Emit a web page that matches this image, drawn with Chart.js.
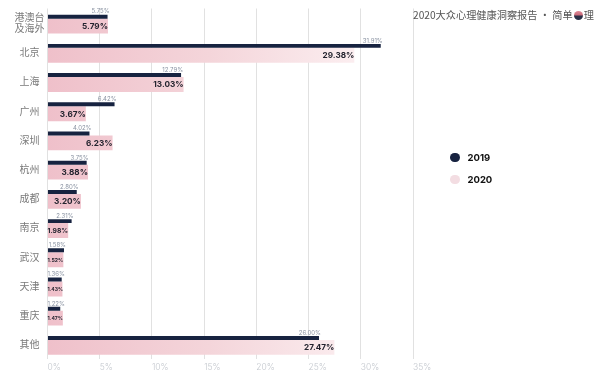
<!DOCTYPE html>
<html>
<head>
<meta charset="utf-8">
<script src="https://cdn.jsdelivr.net/npm/chart.js@4/dist/chart.umd.min.js"></script>
<style>
  html, body { margin: 0; padding: 0; background: #fff; }
  #wrap { position: relative; width: 604px; height: 386px; overflow: hidden; background: #fff; }
  #c { position: absolute; left: 0; top: 0; }
  #title { position: absolute; left: 413px; top: 7px; font-family: "Noto Sans CJK SC", sans-serif; font-size: 10.2px; color: #555; white-space: nowrap; line-height: 15px; }
  #title .logo { display: inline-block; width: 9px; height: 9px; border-radius: 50%; background: linear-gradient(#e08a98 0%, #c96a7a 45%, #2b3148 55%, #2b3148 100%); vertical-align: -1px; margin: 0 1px; }
  .lg { position: absolute; left: 450px; font-family: Inter, sans-serif; font-weight: 700; font-size: 9.5px; color: #111; line-height: 12px; white-space: nowrap; }
  .lg i { display: inline-block; width: 9.5px; height: 9.5px; border-radius: 50%; margin-right: 8px; vertical-align: -1px; }
</style>
</head>
<body>
<div id="wrap">
  <canvas id="c" width="604" height="386"></canvas>
  <div id="title">2020大众心理健康洞察报告 · 简单<span class="logo"></span>理</div>
  <div class="lg" style="top:152px"><i style="background:#172340"></i>2019</div>
  <div class="lg" style="top:174px"><i style="background:#f3dde2"></i>2020</div>
</div>
<script>
const categories = [['港澳台', '及海外'], '北京', '上海', '广州', '深圳', '杭州', '成都', '南京', '武汉', '天津', '重庆', '其他'];
const series2019 = [5.75, 31.91, 12.79, 6.42, 4.02, 3.75, 2.80, 2.31, 1.58, 1.36, 1.22, 26.00];
const series2020 = [5.79, 29.38, 13.03, 3.67, 6.23, 3.88, 3.20, 1.98, 1.52, 1.43, 1.47, 27.47];
const seriesNames = ['2019', '2020'];
const xTicks = [0, 5, 10, 15, 20, 25, 30, 35];

const fmt = v => v.toFixed(2) + '%';

let pinkGrad = null;
function pinkFill(context) {
  const chart = context.chart;
  const area = chart.chartArea;
  if (!area) return '#efc5cd';
  if (!pinkGrad) {
    const x0 = chart.scales.x.getPixelForValue(0);
    const x1 = chart.scales.x.getPixelForValue(31);
    pinkGrad = chart.ctx.createLinearGradient(x0, 0, x1, 0);
    pinkGrad.addColorStop(0, '#efc0ca');
    pinkGrad.addColorStop(0.5, '#f4d5da');
    pinkGrad.addColorStop(1, '#fcf0f2');
  }
  return pinkGrad;
}

const valueLabels = {
  id: 'valueLabels',
  afterDatasetsDraw(chart) {
    const ctx = chart.ctx;
    const x0 = chart.scales.x.getPixelForValue(0);
    ctx.save();
    chart.getDatasetMeta(0).data.forEach((bar, i) => {
      const txt = fmt(series2019[i]);
      ctx.font = '400 6px Inter';
      ctx.fillStyle = '#8a93a2';
      const w = ctx.measureText(txt).width;
      let right = bar.x + 2;
      if (right - w < x0) right = x0 + w;
      ctx.textAlign = 'right';
      ctx.textBaseline = 'bottom';
      ctx.fillText(txt, right, bar.y - bar.height / 2);
    });
    chart.getDatasetMeta(1).data.forEach((bar, i) => {
      const txt = fmt(series2020[i]);
      const maxS = 8.2;
      ctx.font = '700 ' + maxS + 'px Inter';
      const w = ctx.measureText(txt).width;
      const avail = bar.x - x0;
      let s = Math.min(maxS, maxS * avail / w);
      s = Math.max(5, s);
      ctx.font = '700 ' + s.toFixed(2) + 'px Inter';
      const w2 = ctx.measureText(txt).width;
      let right = bar.x;
      if (right - w2 < x0) right = x0 + w2;
      ctx.fillStyle = '#23232e';
      ctx.textAlign = 'right';
      ctx.textBaseline = 'middle';
      ctx.fillText(txt, right, bar.y + 0.5);
    });
    ctx.restore();
  }
};

new Chart(document.getElementById('c'), {
  type: 'bar',
  data: {
    labels: categories,
    datasets: [
      {
        label: seriesNames[0],
        data: series2019,
        backgroundColor: '#172340',
        borderWidth: 0,
        categoryPercentage: 0.8814,
        barPercentage: 0.3077
      },
      {
        label: seriesNames[1],
        data: series2020,
        backgroundColor: pinkFill,
        borderWidth: 0,
        categoryPercentage: 0.4068,
        barPercentage: 2.5
      }
    ]
  },
  options: {
    indexAxis: 'y',
    responsive: false,
    devicePixelRatio: 1,
    animation: false,
    layout: { padding: { left: 0, right: 191, top: 5, bottom: 0 } },
    plugins: {
      legend: { display: false },
      tooltip: { enabled: false },
      title: { display: false }
    },
    scales: {
      x: {
        min: 0,
        max: 35,
        afterBuildTicks(scale) { scale.ticks = xTicks.map(v => ({ value: v })); },
        afterFit(scale) { scale.height = 27; },
        grid: { color: '#e1e1e1', lineWidth: 1, drawTicks: false },
        border: { display: false },
        ticks: {
          align: 'start',
          padding: 3,
          color: '#c4c8ce',
          font: { family: 'Inter', size: 8.5, weight: '300' },
          callback: v => v + '%'
        }
      },
      y: {
        afterFit(scale) { scale.width = 47.5; },
        grid: { display: false, drawTicks: false },
        border: { display: false },
        ticks: {
          crossAlign: 'center',
          padding: 3,
          color: '#7a7a7a',
          font: { family: '"Noto Sans CJK SC"', size: 10, lineHeight: 1.1 }
        }
      }
    }
  },
  plugins: [valueLabels]
});
</script>
</body>
</html>
